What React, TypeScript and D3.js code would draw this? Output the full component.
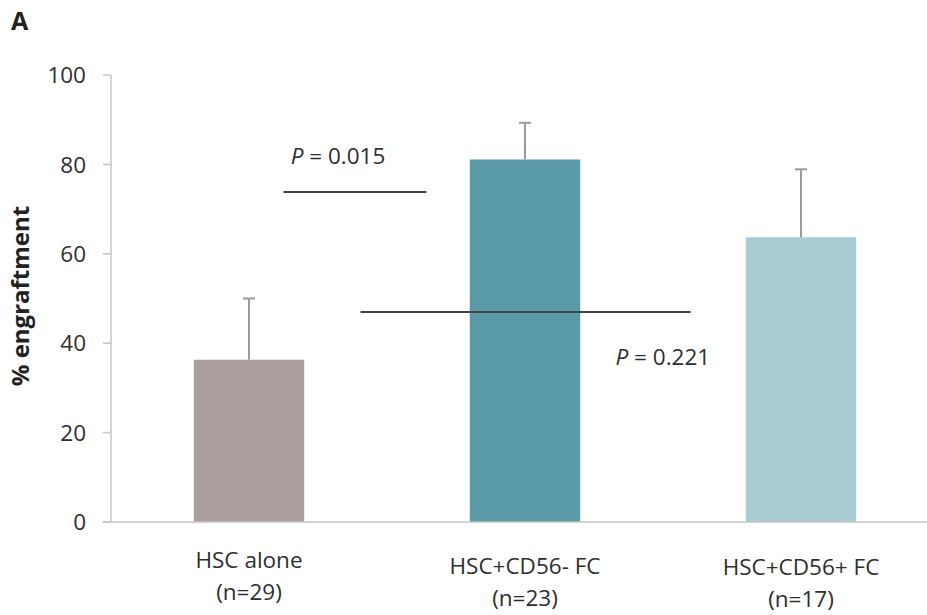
import React from "react";
import * as d3 from "d3";

const categories = ["HSC alone", "HSC+CD56- FC", "HSC+CD56+ FC"];
const sampleSizes = ["(n=29)", "(n=23)", "(n=17)"];
const means = [36.3, 81.1, 63.7];
const errors = [13.7, 8.2, 15.2];
const barColors = ["#ab9f9f", "#5a9aa8", "#a8ccd3"];
const yTicks = [0, 20, 40, 60, 80, 100];
const pTexts = ["0.015", "0.221"];
// comparison brackets: start/end in category-index units, level in % units
const pLineFrom = [0.125, 0.404];
const pLineTo = [0.643, 1.6];
const pLineLevel = [73.8, 47.0];
const pTextX = [0.151, 1.328];
const pTextY = [80.0, 35.2];

const W = 927;
const H = 615;
const FONT = "'Open Sans', sans-serif";

export default function App() {
  const x = d3
    .scaleBand<string>()
    .domain(categories)
    .range([111, 939])
    .paddingInner(0.6)
    .paddingOuter(0.3);
  const y = d3.scaleLinear().domain([0, 100]).range([522, 75]);
  const cx = (i: number) => (x(categories[0]) as number) + x.bandwidth() / 2 + i * x.step();
  const labelShift = [0, 6, 7];

  return (
    <svg
      width={W}
      height={H}
      style={{ position: "absolute", left: 0, top: 0, background: "#fff" }}
    >
      <text x={11} y={30} fontFamily={FONT} fontWeight="bold" fontSize={25} fill="#222">
        A
      </text>
      {/* y axis */}
      <line x1={111} x2={111} y1={y(100)} y2={y(0)} stroke="#c8c4c4" strokeWidth={1.5} />
      {yTicks.map((t) => (
        <g key={t}>
          <line x1={103} x2={111} y1={y(t)} y2={y(t)} stroke="#c8c4c4" strokeWidth={1.5} />
          <text
            x={86}
            y={y(t)}
            dy="0.36em"
            textAnchor="end"
            fontFamily={FONT}
            fontSize={22.5}
            fill="#2e2e2e"
          >
            {t}
          </text>
        </g>
      ))}
      <text
        transform={`translate(29,${296}) rotate(-90)`}
        textAnchor="middle"
        fontFamily={FONT}
        fontWeight="bold"
        fontSize={24}
        fill="#222"
      >
        % engraftment
      </text>
      {/* bars */}
      {categories.map((c, i) => (
        <rect
          key={c}
          x={x(c)}
          y={y(means[i])}
          width={x.bandwidth()}
          height={y(0) - y(means[i])}
          fill={barColors[i]}
        />
      ))}
      {/* error bars */}
      {categories.map((c, i) => (
        <g key={"e" + c} stroke="#9c9a9a" strokeWidth={2}>
          <line x1={cx(i)} x2={cx(i)} y1={y(means[i])} y2={y(means[i] + errors[i])} />
          <line x1={cx(i) - 6} x2={cx(i) + 6} y1={y(means[i] + errors[i])} y2={y(means[i] + errors[i])} />
        </g>
      ))}
      {/* x axis */}
      <line x1={103} x2={W} y1={y(0)} y2={y(0)} stroke="#c8c4c4" strokeWidth={1.5} />
      {categories.map((c, i) => (
        <text
          key={"l" + c}
          x={cx(i)}
          textAnchor="middle"
          fontFamily={FONT}
          fontSize={22.5}
          fill="#2e2e2e"
        >
          <tspan x={cx(i)} y={568 + labelShift[i]}>
            {c}
          </tspan>
          <tspan x={cx(i)} y={600 + labelShift[i]}>
            {sampleSizes[i]}
          </tspan>
        </text>
      ))}
      {/* p-value annotations */}
      {pTexts.map((p, i) => (
        <g key={"p" + i}>
          <line
            x1={cx(pLineFrom[i])}
            x2={cx(pLineTo[i])}
            y1={y(pLineLevel[i])}
            y2={y(pLineLevel[i])}
            stroke="#444"
            strokeWidth={2}
          />
          <text x={cx(pTextX[i])} y={y(pTextY[i])} fontFamily={FONT} fontSize={22.5} fill="#2e2e2e">
            <tspan fontStyle="italic">P</tspan>
            {" = " + p}
          </text>
        </g>
      ))}
    </svg>
  );
}
